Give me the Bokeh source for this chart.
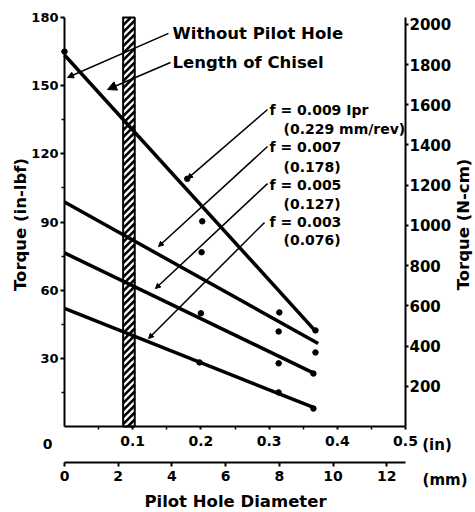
import math
import numpy as np
from bokeh.plotting import figure
from bokeh.models import Range1d, LinearAxis, FixedTicker, Label, Arrow, NormalHead
from bokeh.embed import file_html
from bokeh.resources import INLINE

# ---------------- data ----------------
feed_ipr_labels = ["f = 0.009 Ipr", "f = 0.007", "f = 0.005", "f = 0.003"]
feed_mm_labels = ["(0.229 mm/rev)", "(0.178)", "(0.127)", "(0.076)"]

# fitted straight lines: pilot hole diameter (in) -> torque (in-lbf)
fit_d_start = [0.0, 0.0, 0.0, 0.0]
fit_d_end = [0.368, 0.372, 0.367, 0.365]
fit_t_start = [163.5, 98.8, 76.4, 52.0]
fit_t_end = [42.0, 36.5, 23.3, 8.4]

# measured points
point_d = [0.0, 0.180, 0.202, 0.315, 0.368,
           0.201, 0.314, 0.368,
           0.200, 0.314, 0.365,
           0.198, 0.314, 0.365]
point_t = [165.0, 109.0, 90.3, 50.2, 42.3,
           76.7, 41.8, 32.6,
           49.8, 27.8, 23.3,
           28.2, 15.0, 7.9]

# chisel length band (in)
chisel_band = [0.086, 0.103]

# axes
torque_max = 180
diam_max_in = 0.5
y_ticks = [30, 60, 90, 120, 150, 180]
y_minor = [15, 45, 75, 105, 135, 165]
in_ticks = [0.1, 0.2, 0.3, 0.4, 0.5]
in_minor = [0.05, 0.15, 0.25, 0.35, 0.45]
mm_ticks = [0, 2, 4, 6, 8, 10, 12]
ncm_ticks = [200, 400, 600, 800, 1000, 1200, 1400, 1600, 1800, 2000]
IN_LBF_TO_NCM = 11.2985
MM_PER_IN = 25.4

# ---------------- layout (pixels) ----------------
W, H = 475, 512
ORIGIN_PX = (64, 426)          # where (0 in, 0 in-lbf) sits on the canvas
PX_PER_IN = 682.0
PX_PER_TORQUE = 409.0 / torque_max
MM_AXIS_PX = 462               # vertical position of the mm scale line
FONT = "DejaVu Sans"

x_start = -ORIGIN_PX[0] / PX_PER_IN
x_end = (W - ORIGIN_PX[0]) / PX_PER_IN
y_end = ORIGIN_PX[1] / PX_PER_TORQUE
y_start = (ORIGIN_PX[1] - H) / PX_PER_TORQUE
mm_axis_y = (ORIGIN_PX[1] - MM_AXIS_PX) / PX_PER_TORQUE

p = figure(width=W, height=H, x_range=Range1d(x_start, x_end), y_range=Range1d(y_start, y_end),
           output_backend="svg", toolbar_location=None, x_axis_type=None, y_axis_type=None,
           min_border=0, min_border_left=0, min_border_right=0, min_border_top=0, min_border_bottom=0)
p.outline_line_color = None
p.background_fill_color = "white"
p.border_fill_color = "white"
p.extra_y_ranges = {"ncm": Range1d(y_start * IN_LBF_TO_NCM, y_end * IN_LBF_TO_NCM)}
p.extra_x_ranges = {"mm": Range1d(x_start * MM_PER_IN, x_end * MM_PER_IN)}


def style(ax, size="14px"):
    ax.axis_line_width = 2
    ax.axis_line_color = "black"
    ax.major_tick_line_width = 2
    ax.major_tick_line_color = "black"
    ax.minor_tick_line_width = 1.5
    ax.minor_tick_line_color = "black"
    ax.major_label_text_font = FONT
    ax.major_label_text_font_style = "bold"
    ax.major_label_text_font_size = size
    ax.major_label_text_color = "black"


yl = LinearAxis(ticker=FixedTicker(ticks=y_ticks, minor_ticks=y_minor),
                fixed_location=0, bounds=(0, torque_max))
style(yl, "13px")
yl.major_tick_out, yl.major_tick_in = 4, 0
yl.minor_tick_out, yl.minor_tick_in = 3, 0
yl.major_label_standoff = 2
p.add_layout(yl, "left")

yr = LinearAxis(y_range_name="ncm", ticker=FixedTicker(ticks=ncm_ticks),
                fixed_location=diam_max_in, bounds=(0, torque_max * IN_LBF_TO_NCM))
style(yr, "15px")
yr.major_tick_out, yr.major_tick_in = 3, 0
yr.minor_tick_line_color = None
yr.major_label_standoff = 1
p.add_layout(yr, "right")

xin = LinearAxis(ticker=FixedTicker(ticks=in_ticks, minor_ticks=in_minor),
                 fixed_location=0, bounds=(0, diam_max_in))
style(xin, "14px")
xin.major_tick_out, xin.major_tick_in = 3, 0
xin.minor_tick_out, xin.minor_tick_in = 3, 0
xin.major_label_standoff = 6
p.add_layout(xin, "below")

xmm = LinearAxis(x_range_name="mm", ticker=FixedTicker(ticks=mm_ticks),
                 fixed_location=mm_axis_y, bounds=(0, diam_max_in * MM_PER_IN))
style(xmm, "14px")
xmm.major_tick_out, xmm.major_tick_in = 4, 0
xmm.minor_tick_line_color = None
xmm.major_label_standoff = 4
p.add_layout(xmm, "below")

# ---------------- chisel band (hatched) ----------------
xa, xb = chisel_band
rise = (xb - xa) * PX_PER_IN / PX_PER_TORQUE      # 45 degree hatching
step = 7.0 / PX_PER_TORQUE
ys = np.arange(-rise, torque_max, step)
hx0 = np.full_like(ys, xa)
hy0 = ys.copy()
hx1 = np.full_like(ys, xb)
hy1 = ys + rise
m = hy0 < 0
hx0[m] = xa + (0 - ys[m]) / rise * (xb - xa)
hy0[m] = 0
m = hy1 > torque_max
hx1[m] = xa + (torque_max - ys[m]) / rise * (xb - xa)
hy1[m] = torque_max
p.segment(x0=hx0, y0=hy0, x1=hx1, y1=hy1, line_color="black", line_width=2.5)
p.quad(left=[xa], right=[xb], bottom=[0], top=[torque_max],
       fill_color=None, line_color="black", line_width=2)

# ---------------- fitted lines and points ----------------
p.segment(x0=fit_d_start, y0=fit_t_start, x1=fit_d_end, y1=fit_t_end,
          line_color="black", line_width=3.5)
p.scatter(point_d, point_t, size=5.5, color="black")

# ---------------- annotations ----------------
def lab(x, y, text, size="14px", align="left", angle=0.0):
    p.add_layout(Label(x=x, y=y, text=text, text_font=FONT, text_font_style="bold",
                       text_font_size=size, text_color="black", text_align=align,
                       text_baseline="middle", angle=angle))


def arrow(x0, y0, x1, y1, head=6):
    p.add_layout(Arrow(end=NormalHead(size=head, fill_color="black", line_color="black"),
                       x_start=x0, y_start=y0, x_end=x1, y_end=y1,
                       line_color="black", line_width=1.5))


lab(0.1584, 173.0, "Without Pilot Hole", "16.5px")
lab(0.1584, 160.2, "Length of Chisel", "16.5px")
arrow(0.1525, 173.0, 0.0044, 153.6)
arrow(0.1554, 160.2, 0.063, 148.3, head=9)

label_y_top = [139.1, 122.8, 106.5, 90.2]
label_y_bot = [131.1, 114.4, 98.1, 81.9]
ptr_start = [(0.2977, 139.5), (0.2977, 123.2), (0.2977, 106.9), (0.2933, 89.8)]
ptr_end = [(0.1804, 109.1), (0.1378, 79.2), (0.1334, 60.7), (0.1232, 38.7)]
for i in range(4):
    lab(0.3006, label_y_top[i], feed_ipr_labels[i])
    lab(0.3211, label_y_bot[i], feed_mm_labels[i])
    arrow(ptr_start[i][0], ptr_start[i][1], ptr_end[i][0], ptr_end[i][1], head=5)

# scale texts
lab(-0.0249, -7.5, "0", "14px", "center")
lab(0.5245, -8.0, "(in)", "15px")
lab(0.525, -23.5, "(mm)", "15px")

# axis titles
lab(-0.0645, 88.9, "Torque (in-lbf)", "16.5px", "center", math.pi / 2)
lab(0.585, 88.9, "Torque (N-cm)", "16.5px", "center", math.pi / 2)
lab(0.2507, -33.0, "Pilot Hole Diameter", "16.5px", "center")

open("out.html", "w").write(file_html(p, INLINE))
